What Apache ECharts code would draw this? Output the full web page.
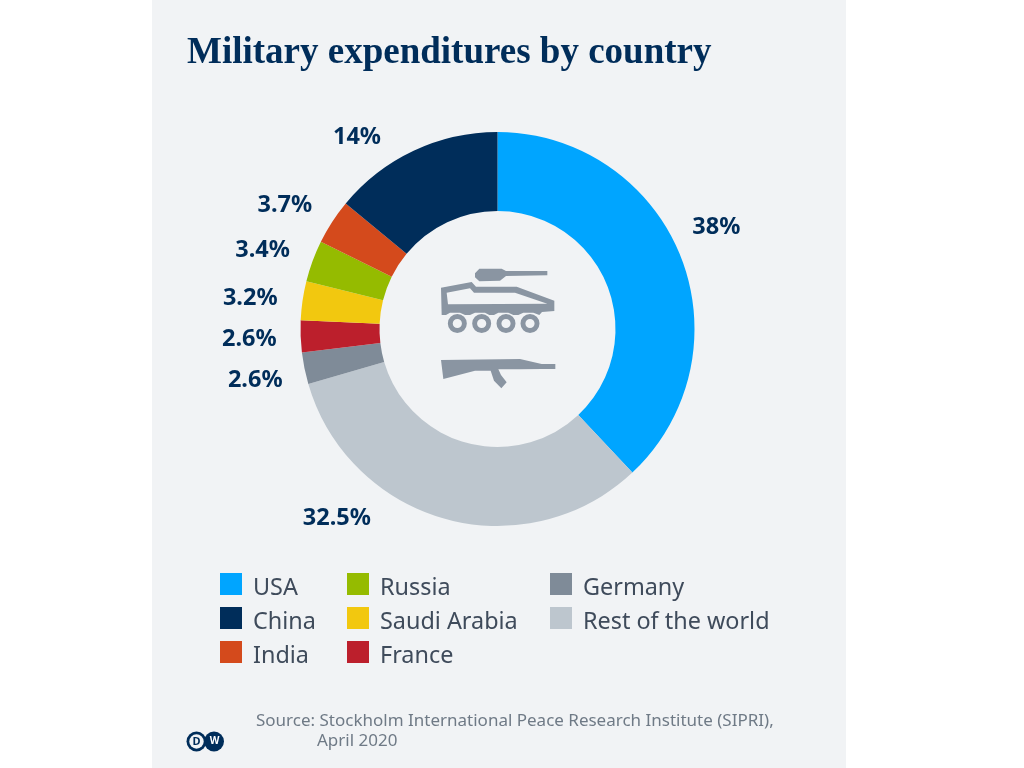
<!DOCTYPE html>
<html>
<head>
<meta charset="utf-8">
<style>html,body{margin:0;padding:0;background:#fff}#chart{width:1024px;height:768px}</style>
<script src="https://cdn.jsdelivr.net/npm/echarts@6/dist/echarts.min.js"></script>
</head>
<body>
<div id="chart"></div>
<script>
// clockwise from 12 o'clock
const countries = ["USA", "Rest of the world", "Germany", "France", "Saudi Arabia", "Russia", "India", "China"];
const shares = [38, 32.5, 2.6, 2.6, 3.2, 3.4, 3.7, 14];
const colors = ["#00a5ff", "#bdc6ce", "#7f8b98", "#bc1f2c", "#f2c80f", "#95bb00", "#d44a1c", "#002d5a"];
const legendCols = [
  ["USA", "China", "India"],
  ["Russia", "Saudi Arabia", "France"],
  ["Germany", "Rest of the world"],
];
const legendLefts = [220, 347, 550];
// label offsets from the default outside position, same order as countries
const labelNudge = [[1, -27], [-68, -6], [-11, 11], [-13, 3], [-14, -1], [-12, -9], [-10, -13], [-25, -8]];

const NAVY = "#002d5a";
const BG = "#f1f3f5";
const ICON = "#8a95a2";

// zoomed-crop coordinates -> page coordinates for the centre icons
const pts = (list) => list.map(([x, y]) => [420 + x / 3, 250 + y / 3]);
const poly = (list, fill) => ({ type: "polygon", shape: { points: pts(list) }, style: { fill }, z: 10 });
const wheel = (x) => ({ type: "ring", shape: { cx: 420 + x / 3, cy: 323.5, r: 9.5, r0: 4.6 }, style: { fill: ICON }, z: 10 });
const txt = (x, y, text, style) => ({ type: "text", x, y, style: { text, ...style }, z: 10 });

const chart = echarts.init(document.getElementById("chart"), null, { renderer: "canvas" });

chart.setOption({
  animation: false,
  color: colors,
  title: {
    text: "Military expenditures by country",
    left: 182,
    top: 30,
    textStyle: { fontFamily: "Liberation Serif", fontWeight: "bold", fontSize: 37, color: NAVY },
  },
  legend: legendCols.map((col, i) => ({
    data: col,
    orient: "vertical",
    left: legendLefts[i],
    top: 568.5,
    padding: 0,
    icon: "rect",
    itemWidth: 22,
    itemHeight: 22,
    itemGap: 3,
    selectedMode: false,
    formatter: (name) => `{a|${name}}`,
    textStyle: {
      padding: [0, 0, 0, 6],
      rich: { a: { fontFamily: "Noto Sans", fontSize: 23.4, lineHeight: 23, color: "#3f4b5b", padding: [8, 0, 0, 0] } },
    },
  })),
  graphic: { elements: [
    { type: "rect", shape: { x: 152, y: 0, width: 694, height: 768 }, style: { fill: BG }, z: -10 },
    // tank
    poly([[165, 70], [178, 56], [245, 56], [258, 63], [382, 63], [382, 76], [258, 78], [240, 92], [178, 94], [165, 82]], ICON),
    poly([[63, 113], [155, 96], [168, 110], [290, 110], [403, 152], [403, 183], [366, 186], [358, 195], [340, 188], [310, 188], [295, 195], [280, 195], [265, 188], [235, 188], [222, 195], [208, 195], [195, 188], [165, 188], [150, 195], [135, 195], [120, 188], [90, 188], [78, 195], [65, 195]], ICON),
    poly([[80, 128], [150, 115], [162, 128], [285, 128], [382, 161], [84, 163]], BG),
    wheel(112), wheel(185), wheel(258), wheel(330),
    // rifle
    poly([[63, 330], [300, 327], [365, 342], [406, 342], [406, 357], [365, 357], [300, 358], [235, 358], [243, 375], [260, 397], [244, 415], [222, 392], [212, 362], [165, 362], [70, 387]], ICON),
    // source
    txt(256, 713, "Source: Stockholm International Peace Research Institute (SIPRI),", { fontFamily: "Noto Sans", fontSize: 17, fill: "#6f7a86" }),
    txt(317, 733, "April 2020", { fontFamily: "Noto Sans", fontSize: 17, fill: "#6f7a86" }),
    // DW logo
    { type: "circle", shape: { cx: 214, cy: 741.5, r: 10 }, style: { fill: NAVY }, z: 10 },
    { type: "circle", shape: { cx: 196.5, cy: 741.5, r: 10 }, style: { fill: NAVY }, z: 11 },
    { type: "circle", shape: { cx: 196.5, cy: 741.5, r: 7.2 }, style: { fill: BG }, z: 11 },
    { type: "text", x: 196.5, y: 741.5, style: { text: "D", align: "center", verticalAlign: "middle", fontFamily: "Noto Sans", fontWeight: "bold", fontSize: 11, fill: NAVY }, z: 12 },
    { type: "text", x: 214.5, y: 741.5, style: { text: "W", align: "center", verticalAlign: "middle", fontFamily: "Noto Sans", fontWeight: "bold", fontSize: 10, fill: "#fff" }, z: 12 },
  ] },
  series: [{
    type: "pie",
    center: [497.5, 329],
    radius: [118, 197],
    startAngle: 90,
    clockwise: true,
    avoidLabelOverlap: false,
    silent: true,
    emphasis: { disabled: true },
    itemStyle: { borderWidth: 0 },
    label: {
      show: true,
      position: "outside",
      formatter: (p) => p.value + "%",
      fontFamily: "Noto Sans",
      fontWeight: "bold",
      fontSize: 23.5,
      color: NAVY,
    },
    labelLine: { show: false, length: 6, length2: 0 },
    labelLayout: (p) => ({ dx: labelNudge[p.dataIndex][0], dy: labelNudge[p.dataIndex][1] }),
    data: countries.map((name, i) => ({ name, value: shares[i] })),
  }],
});
</script>
</body>
</html>
